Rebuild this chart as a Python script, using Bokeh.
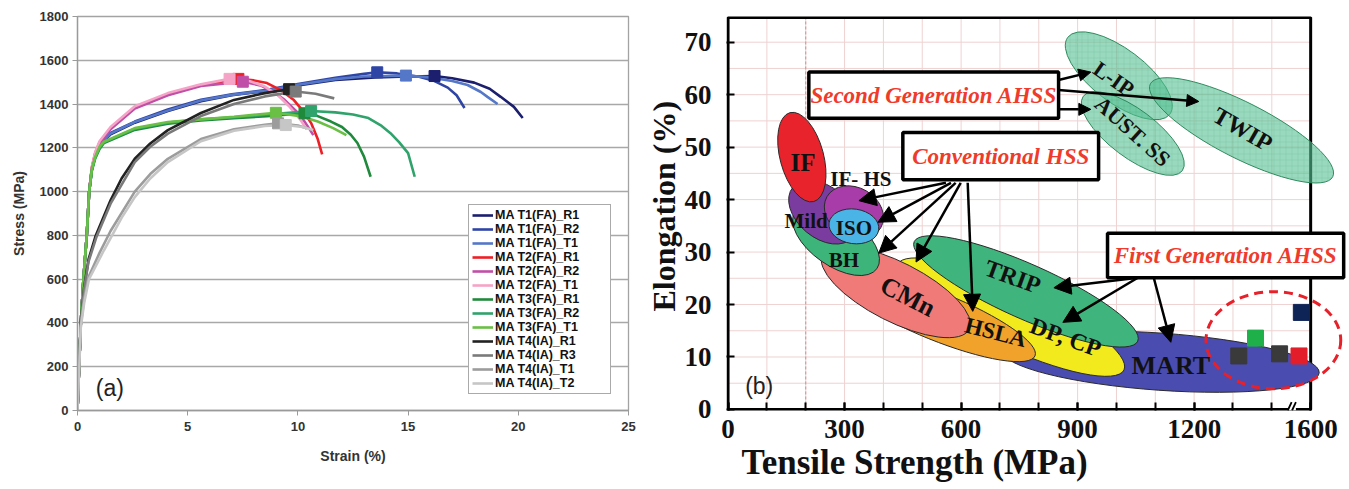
from bokeh.plotting import figure
from bokeh.layouts import row
from bokeh.models import (Range1d, FixedTicker, Legend, LegendItem, Label, Title,
                          Arrow, NormalHead, ColumnDataSource)
from bokeh.core.properties import value
from bokeh.embed import file_html
from bokeh.resources import INLINE

SANS = "Liberation Sans"
SERIF = "Liberation Serif"

# ---------------------------------------------------------------------------
# (a) engineering stress-strain curves
# ---------------------------------------------------------------------------
SPECIMENS = ["MA T1(FA)_R1", "MA T1(FA)_R2", "MA T1(FA)_T1",
             "MA T2(FA)_R1", "MA T2(FA)_R2", "MA T2(FA)_T1",
             "MA T3(FA)_R1", "MA T3(FA)_R2", "MA T3(FA)_T1",
             "MA T4(IA)_R1", "MA T4(IA)_R3", "MA T4(IA)_T1", "MA T4(IA)_T2"]

MAT1_R1_STRAIN = [0, 0.15, 0.27, 0.42, 0.53, 0.65, 0.8, 1.0, 1.5, 2.6, 4.1, 5.6, 7.0, 8.6, 10.0, 11.7, 13.5, 15.0, 16.2, 17.0, 18.0, 18.7, 19.2, 19.8, 20.2]
MAT1_R1_STRESS = [0, 400, 600, 800, 1000, 1100, 1160, 1210, 1262, 1315, 1368, 1413, 1440, 1460, 1485, 1510, 1522, 1526, 1528, 1518, 1498, 1470, 1433, 1387, 1336]
MAT1_R2_STRAIN = [0, 0.15, 0.27, 0.42, 0.53, 0.65, 0.8, 1.0, 1.5, 2.6, 4.1, 5.6, 7.0, 8.6, 10.0, 11.7, 13.0, 13.6, 14.5, 15.5, 16.2, 16.8, 17.2, 17.56]
MAT1_R2_STRESS = [0, 400, 600, 800, 1000, 1105, 1165, 1215, 1268, 1320, 1375, 1420, 1445, 1465, 1492, 1520, 1538, 1545, 1540, 1525, 1505, 1475, 1440, 1382]
MAT1_T1_STRAIN = [0, 0.15, 0.27, 0.42, 0.53, 0.65, 0.8, 1.0, 1.5, 2.6, 4.1, 5.6, 7.0, 8.6, 10.0, 11.7, 13.0, 14.9, 16.0, 17.0, 17.7, 18.3, 18.6, 19.06]
MAT1_T1_STRESS = [0, 400, 600, 800, 1000, 1100, 1160, 1212, 1265, 1318, 1370, 1416, 1442, 1462, 1488, 1514, 1526, 1530, 1522, 1505, 1487, 1455, 1433, 1400]

MAT2_R1_STRAIN = [0, 0.15, 0.27, 0.42, 0.53, 0.65, 0.8, 1.0, 1.5, 2.6, 4.1, 5.6, 7.3, 8.0, 8.6, 9.2, 9.8, 10.3, 10.6, 10.9, 11.1]
MAT2_R1_STRESS = [0, 400, 600, 800, 1000, 1110, 1175, 1225, 1290, 1385, 1445, 1487, 1515, 1508, 1496, 1465, 1420, 1360, 1313, 1240, 1170]
MAT2_R2_STRAIN = [0, 0.15, 0.27, 0.42, 0.53, 0.65, 0.8, 1.0, 1.5, 2.6, 4.1, 5.6, 7.5, 8.3, 8.9, 9.4, 9.9, 10.2, 10.5, 10.7]
MAT2_R2_STRESS = [0, 400, 600, 800, 1000, 1105, 1170, 1220, 1285, 1380, 1440, 1483, 1502, 1485, 1455, 1419, 1370, 1335, 1290, 1258]
MAT2_T1_STRAIN = [0, 0.15, 0.27, 0.42, 0.53, 0.65, 0.8, 1.0, 1.5, 2.6, 4.1, 5.6, 6.9, 7.8, 8.5, 9.1, 9.6, 10.1, 10.4]
MAT2_T1_STRESS = [0, 400, 600, 800, 1000, 1112, 1180, 1230, 1295, 1390, 1450, 1490, 1515, 1505, 1480, 1440, 1390, 1330, 1285]

MAT3_R1_STRAIN = [0, 0.15, 0.27, 0.42, 0.53, 0.65, 0.8, 1.0, 1.2, 2.6, 4.1, 5.6, 7.1, 8.6, 10.3, 10.9, 11.5, 12.0, 12.4, 12.7, 13.0, 13.3]
MAT3_R1_STRESS = [0, 400, 600, 800, 1000, 1095, 1150, 1195, 1222, 1282, 1310, 1325, 1335, 1345, 1358, 1345, 1320, 1295, 1260, 1222, 1160, 1068]
MAT3_R2_STRAIN = [0, 0.15, 0.27, 0.42, 0.53, 0.65, 0.8, 1.0, 1.2, 2.6, 4.1, 5.6, 7.1, 8.6, 10.6, 11.7, 12.5, 13.2, 13.8, 14.2, 14.6, 15.0, 15.3]
MAT3_R2_STRESS = [0, 400, 600, 800, 1000, 1098, 1155, 1200, 1225, 1287, 1315, 1330, 1340, 1352, 1368, 1362, 1352, 1336, 1300, 1267, 1225, 1176, 1068]
MAT3_T1_STRAIN = [0, 0.15, 0.27, 0.42, 0.53, 0.65, 0.8, 1.0, 1.2, 2.6, 4.1, 5.6, 7.1, 9.0, 10.1, 10.9, 11.6, 12.2]
MAT3_T1_STRESS = [0, 400, 600, 800, 1000, 1100, 1158, 1205, 1228, 1290, 1318, 1330, 1342, 1360, 1345, 1320, 1290, 1258]

MAT4_R1_STRAIN = [0, 0.15, 0.3, 0.5, 0.83, 1.5, 2.0, 2.6, 3.3, 4.1, 5.6, 7.1, 8.5, 9.6, 9.8]
MAT4_R1_STRESS = [0, 400, 560, 690, 800, 960, 1060, 1150, 1220, 1281, 1359, 1419, 1450, 1468, 1462]
MAT4_R3_STRAIN = [0, 0.15, 0.3, 0.5, 0.85, 1.5, 2.6, 3.3, 4.1, 5.6, 7.1, 8.5, 9.9, 10.8, 11.65]
MAT4_R3_STRESS = [0, 400, 555, 680, 790, 945, 1135, 1205, 1265, 1345, 1400, 1435, 1457, 1447, 1426]
MAT4_T1_STRAIN = [0, 0.15, 0.3, 0.5, 1.0, 1.5, 2.6, 3.3, 4.1, 5.6, 7.1, 8.5, 9.1, 10.0, 10.4]
MAT4_T1_STRESS = [0, 390, 510, 610, 720, 820, 1000, 1080, 1150, 1240, 1285, 1305, 1312, 1302, 1290]
MAT4_T2_STRAIN = [0, 0.15, 0.3, 0.52, 1.2, 2.0, 2.6, 3.3, 4.1, 5.6, 7.1, 8.5, 9.45, 10.2, 10.7]
MAT4_T2_STRESS = [0, 380, 490, 600, 732, 880, 975, 1060, 1135, 1230, 1278, 1300, 1304, 1295, 1281]

# ultimate tensile strength point of every specimen
UTS_STRAIN = [16.2, 13.6, 14.9, 7.3, 7.5, 6.9, 10.3, 10.6, 9.0, 9.6, 9.9, 9.1, 9.45]
UTS_STRESS = [1528, 1545, 1530, 1515, 1502, 1515, 1358, 1368, 1360, 1468, 1457, 1312, 1304]

STRAIN_TICKS = [0, 5, 10, 15, 20, 25]
STRESS_TICKS = [0, 200, 400, 600, 800, 1000, 1200, 1400, 1600, 1800]

CURVES = [(MAT1_R1_STRAIN, MAT1_R1_STRESS), (MAT1_R2_STRAIN, MAT1_R2_STRESS), (MAT1_T1_STRAIN, MAT1_T1_STRESS),
          (MAT2_R1_STRAIN, MAT2_R1_STRESS), (MAT2_R2_STRAIN, MAT2_R2_STRESS), (MAT2_T1_STRAIN, MAT2_T1_STRESS),
          (MAT3_R1_STRAIN, MAT3_R1_STRESS), (MAT3_R2_STRAIN, MAT3_R2_STRESS), (MAT3_T1_STRAIN, MAT3_T1_STRESS),
          (MAT4_R1_STRAIN, MAT4_R1_STRESS), (MAT4_R3_STRAIN, MAT4_R3_STRESS), (MAT4_T1_STRAIN, MAT4_T1_STRESS),
          (MAT4_T2_STRAIN, MAT4_T2_STRESS)]

CURVE_COLORS = ["#1b1f6e", "#2f45a6", "#5577c8",
                "#ee2027", "#c04fa8", "#f5a3c7",
                "#1f8a3c", "#2fa36b", "#6abf45",
                "#222222", "#7a7a7a", "#9c9c9c", "#c6c6c6"]

# ---------------------------------------------------------------------------
# (b) elongation vs tensile strength of steel families
# ---------------------------------------------------------------------------
TS_MAX = 1600          # right end of the drawing area
TS_FRAME = 1500        # last tick, labelled 1600 beyond the axis break
TS_BREAK = 1453
EL_TOP = 74.7
TS_TICKS = [0, 300, 600, 900, 1200, 1500]
TS_MINOR = list(range(0, 1600, 100))
EL_TICKS = [0, 10, 20, 30, 40, 50, 60, 70]

STEEL_NAMES = ["MART", "DP, CP", "TRIP", "HSLA", "CMn", "BH", "Mild", "IF- HS", "ISO", "IF"]
STEEL_TS = [1114, 728, 767, 540, 432, 278, 244, 324, 324, 190]
STEEL_EL = [9.1, 17.6, 22.5, 17.7, 22.4, 32.3, 37.6, 37.6, 34.9, 48.1]
STEEL_TS_SPAN = [818, 643, 630, 540, 424, 257, 201, 160, 129, 237]
STEEL_EL_SPAN = [10.9, 11.3, 10.4, 9.1, 11.3, 9.8, 9.8, 9.4, 6.6, 8.3]
STEEL_TILT = [-4, -25, -24, -22, -27, -35, -40, -30, -8, 105]
STEEL_FILL = ["#4a4cb0", "#f2ea1c", "#3fb47c", "#f0a22a", "#f07a78",
              "#3db57a", "#7a3c9e", "#a83ca8", "#4ab4e6", "#e8232b"]

AHSS2_NAMES = ["L-IP", "AUST. SS", "TWIP"]
AHSS2_TS = [1006, 1042, 1322]
AHSS2_EL = [63.6, 52.6, 53.2]
AHSS2_TS_SPAN = [329, 319, 527]
AHSS2_EL_SPAN = [10.2, 9.1, 10.6]
AHSS2_TILT = [-37, -37, -27]

# text placement of the family names
NAME_TEXT = ["IF", "IF- HS", "Mild", "ISO", "BH", "CMn", "HSLA", "TRIP", "DP, CP", "MART", "L-IP", "AUST. SS", "TWIP"]
NAME_TS = [193, 342, 201, 324, 298, 463, 689, 733, 869, 1140, 993, 1042, 1325]
NAME_EL = [47.0, 44.0, 36.0, 34.5, 28.5, 21.5, 14.7, 25.3, 13.8, 8.3, 63.0, 53.0, 53.4]
NAME_ROT = [0, 0, 0, 0, 0, -27, -14, -20, -20, 0, -35, -42, -30]
NAME_SIZE = ["25px", "21px", "21px", "21px", "21px", "26px", "23px", "24px", "24px", "26px", "22px", "22px", "24px"]

# measured steels of (a) placed on the chart
MEASURED_TS = [1315, 1358, 1420, 1470, 1476]
MEASURED_EL = [10.2, 13.6, 10.6, 10.2, 18.5]
MEASURED_COLORS = ["#3a3a3a", "#1fb04a", "#3a3a3a", "#e31e2a", "#0f2456"]
MEASURED_ZONE = dict(ts=1404, el=13.2, ts_span=347, el_span=18.5)

# call-out boxes
CALLOUT_TEXT = ["Second Generation AHSS", "Conventional HSS", "First Generation AHSS"]
CALLOUT_LEFT = [208, 450, 977]
CALLOUT_RIGHT = [851, 954, 1585]
CALLOUT_TOP = [64.3, 52.8, 33.6]
CALLOUT_BOTTOM = [55.5, 43.8, 25.1]

ARROWS_2ND = dict(x0=[851, 851, 851], y0=[62.8, 60.9, 57.2],
                  x1=[934, 1212, 934], y1=[64.3, 58.7, 57.2])
ARROWS_CONV = dict(x0=[561, 574, 586, 599, 617], y0=[43.2, 43.2, 43.2, 43.2, 43.2],
                   x1=[337, 386, 388, 484, 630], y1=[39.8, 35.7, 29.8, 28.1, 18.7])
ARROWS_1ST = dict(x0=[1055, 1055, 1096], y0=[25.1, 25.1, 25.1],
                  x1=[839, 862, 1140], y1=[23.2, 16.6, 12.8])

# ---------------------------------------------------------------------------
# panel (a)
# ---------------------------------------------------------------------------
p1 = figure(width=640, height=489, x_range=Range1d(0, 25), y_range=Range1d(0, 1800),
            output_backend="svg", toolbar_location=None,
            min_border_left=77, min_border_right=12, min_border_top=16, min_border_bottom=79)
p1.outline_line_color = "#a3a3a3"
p1.outline_line_width = 1.3
p1.xgrid.visible = False
p1.ygrid.grid_line_color = "#a8a8a8"
p1.ygrid.grid_line_width = 1.3
p1.xaxis.ticker = FixedTicker(ticks=STRAIN_TICKS)
p1.yaxis.ticker = FixedTicker(ticks=STRESS_TICKS)
for ax in (p1.xaxis[0], p1.yaxis[0]):
    ax.axis_line_color = "#9a9a9a"
    ax.axis_line_width = 1.3
    ax.major_tick_line_color = "#9a9a9a"
    ax.major_tick_out = 5
    ax.major_tick_in = 0
    ax.minor_tick_line_color = None
    ax.major_label_text_font = SANS
    ax.major_label_text_font_style = "bold"
    ax.major_label_text_font_size = "13px"
    ax.major_label_text_color = "#333333"
    ax.axis_label_text_font = SANS
    ax.axis_label_text_font_style = "bold"
    ax.axis_label_text_font_size = "14px"
    ax.axis_label_text_color = "#333333"
p1.xaxis.axis_label = "Strain (%)"
p1.yaxis.axis_label = "Stress (MPa)"
p1.xaxis.major_label_standoff = 6
p1.xaxis.axis_label_standoff = 14
p1.yaxis.major_label_standoff = 4
p1.yaxis.axis_label_standoff = 10

items = []
for name, color, (xs, ys) in zip(SPECIMENS, CURVE_COLORS, CURVES):
    r = p1.line(xs, ys, line_color=color, line_width=2.6)
    items.append(LegendItem(label=name, renderers=[r]))
p1.scatter(UTS_STRAIN, UTS_STRESS, marker="square", size=11,
           fill_color=CURVE_COLORS, line_color=CURVE_COLORS)

legend = Legend(items=items, location=(391, 16), orientation="vertical",
                label_text_font=SANS, label_text_font_style="bold",
                label_text_font_size="12.5px", label_text_color="#111111",
                label_height=14, glyph_height=14, glyph_width=21, label_standoff=2,
                label_width=112, spacing=0, padding=3, margin=0,
                border_line_color="#555555", border_line_width=1,
                background_fill_color="white", background_fill_alpha=1)
p1.add_layout(legend)

p1.add_layout(Label(x=0.83, y=105, text="(a)", text_font=SANS, text_font_size="23px",
                    text_color="#222222", text_baseline="middle", text_align="left"))

# ---------------------------------------------------------------------------
# panel (b)
# ---------------------------------------------------------------------------
p2 = figure(width=709, height=489, x_range=Range1d(-4, TS_MAX), y_range=Range1d(-0.2, EL_TOP + 0.2),
            output_backend="svg", toolbar_location=None,
            min_border_left=86, min_border_right=0, min_border_top=14, min_border_bottom=77)
p2.outline_line_color = None
p2.grid.visible = False
p2.xaxis.ticker = FixedTicker(ticks=TS_TICKS, minor_ticks=TS_MINOR)
p2.xaxis.major_label_overrides = {TS_FRAME: "1600"}
p2.yaxis.ticker = FixedTicker(ticks=EL_TICKS, minor_ticks=[])
for ax in (p2.xaxis[0], p2.yaxis[0]):
    ax.axis_line_color = None
    ax.major_tick_in = 8
    ax.major_tick_out = 0
    ax.minor_tick_in = 8
    ax.minor_tick_out = 0
    ax.major_tick_line_color = "black"
    ax.major_tick_line_width = 2
    ax.minor_tick_line_color = "black"
    ax.minor_tick_line_width = 2
    ax.major_label_text_font = SERIF
    ax.major_label_text_font_style = "bold"
    ax.major_label_text_font_size = "27px"
    ax.major_label_text_color = "#111111"
p2.xaxis.major_label_standoff = 9
p2.yaxis.major_label_standoff = 15

# pink reference grid inside the frame
grid_x = [v for v in TS_MINOR if 0 < v < TS_FRAME]
grid_y = list(range(5, 71, 5))
p2.segment(x0=grid_x, y0=0, x1=grid_x, y1=EL_TOP, line_color="#efd2d2", line_width=1)
p2.segment(x0=0, y0=grid_y, x1=TS_FRAME, y1=grid_y, line_color="#efd2d2", line_width=1)
p2.segment(x0=[200], y0=0, x1=[200], y1=EL_TOP, line_color="#d98a8a", line_width=1, line_dash="3 2")

# black plot frame, ending at the last tick
p2.quad(left=[0], right=[TS_FRAME], bottom=[0], top=[EL_TOP],
        fill_color=None, line_color="black", line_width=3)

# axis break on the strength axis
p2.quad(left=[TS_BREAK - 9], right=[TS_BREAK + 9], bottom=[-0.2], top=[0.4],
        fill_color="white", line_color=None)
p2.segment(x0=[TS_BREAK - 12, TS_BREAK - 1], y0=[-0.2, -0.2],
           x1=[TS_BREAK - 2, TS_BREAK + 9], y1=[1.4, 1.4], line_color="black", line_width=1.8)

# second generation AHSS (translucent)
p2.ellipse(x=AHSS2_TS, y=AHSS2_EL, width=AHSS2_TS_SPAN, height=AHSS2_EL_SPAN,
           angle=AHSS2_TILT, angle_units="deg", fill_color="#55c091", fill_alpha=0.6,
           line_color="#2f8a5e", line_width=1,
           hatch_pattern="+", hatch_scale=6, hatch_color="#2f9a66", hatch_alpha=0.2, hatch_weight=0.6)

# conventional steels and first generation AHSS
p2.ellipse(x=STEEL_TS, y=STEEL_EL, width=STEEL_TS_SPAN, height=STEEL_EL_SPAN,
           angle=STEEL_TILT, angle_units="deg", fill_color=STEEL_FILL,
           line_color="#2a2a2a", line_width=1)

# measured steels
p2.ellipse(x=[MEASURED_ZONE["ts"]], y=[MEASURED_ZONE["el"]],
           width=[MEASURED_ZONE["ts_span"]], height=[MEASURED_ZONE["el_span"]],
           fill_color=None, line_color="#e8202a", line_width=3, line_dash="9 6")
p2.scatter(MEASURED_TS, MEASURED_EL, marker="square", size=16,
           fill_color=MEASURED_COLORS, line_color=MEASURED_COLORS)

name_src = ColumnDataSource(dict(x=NAME_TS, y=NAME_EL, text=NAME_TEXT, angle=NAME_ROT, size=NAME_SIZE))
p2.text(x="x", y="y", text="text", angle="angle", angle_units="deg", source=name_src,
        text_font=value(SERIF), text_font_style="bold", text_font_size="size",
        text_color="#111111", text_align="center", text_baseline="middle")

# call-out boxes
p2.quad(left=CALLOUT_LEFT, right=CALLOUT_RIGHT, top=CALLOUT_TOP, bottom=CALLOUT_BOTTOM,
        fill_color="white", line_color="black", line_width=3.5)
p2.text(x=[(a + b) / 2 for a, b in zip(CALLOUT_LEFT, CALLOUT_RIGHT)],
        y=[(a + b) / 2 for a, b in zip(CALLOUT_TOP, CALLOUT_BOTTOM)],
        text=CALLOUT_TEXT, text_font=value(SERIF), text_font_style="bold italic",
        text_font_size="23px", text_color="#ef3b2c", text_align="center", text_baseline="middle")

for arrows, head in ((ARROWS_2ND, 12), (ARROWS_CONV, 17), (ARROWS_1ST, 17)):
    p2.add_layout(Arrow(source=ColumnDataSource(arrows), x_start="x0", y_start="y0",
                        x_end="x1", y_end="y1", line_color="black", line_width=2.5,
                        end=NormalHead(size=head, fill_color="black", line_color="black")))

p2.add_layout(Label(x=44, y=4.5, text="(b)", text_font=SANS, text_font_size="23px",
                    text_color="#222222", text_baseline="middle", text_align="left"))

# axis titles
p2.add_layout(Title(text="Tensile Strength (MPa)", align="left", offset=15, standoff=0,
                    text_font=SERIF, text_font_style="bold", text_font_size="35px",
                    text_color="#111111"), "below")
p2.add_layout(Title(text="Elongation (%)", align="left", offset=99, standoff=0,
                    text_font=SERIF, text_font_style="bold", text_font_size="32px",
                    text_color="#111111"), "left")

layout = row(p1, p2)
open("out.html", "w").write(file_html(layout, INLINE))
